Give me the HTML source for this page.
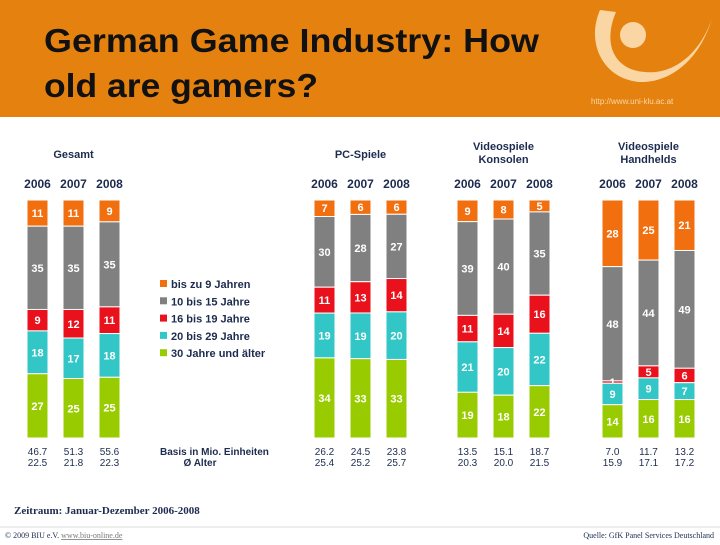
<!DOCTYPE html>
<html><head><meta charset="utf-8"><style>
body{margin:0;width:720px;height:540px;overflow:hidden;background:#fff;font-family:"Liberation Sans",sans-serif}
</style></head><body>
<svg id="c" width="720" height="540" xmlns="http://www.w3.org/2000/svg">
<rect x="0" y="0" width="720" height="117" fill="#E5820F"/>
<text x="44" y="52" font-size="33" font-weight="bold" fill="#111" font-family="Liberation Sans" textLength="495" lengthAdjust="spacingAndGlyphs">German Game Industry: How</text>
<text x="44" y="97" font-size="33" font-weight="bold" fill="#111" font-family="Liberation Sans" textLength="274" lengthAdjust="spacingAndGlyphs">old are gamers?</text>
<g>
<circle cx="633" cy="35" r="13" fill="#FAD6A5"/>
<path d="M600,10 C585,45 605,80 640,82 C670,83 700,60 712,18 C700,55 672,75 645,72 C615,70 602,45 616,12 Z" fill="#FAD6A5"/>
<text x="591" y="104" font-size="8" fill="#FAD6A5">http://www.uni-klu.ac.at</text>
</g>
<g id="bars"></g>
<g font-size="10" font-weight="bold" fill="#1d2b4f">
<text x="160" y="455">Basis in Mio. Einheiten</text>
<text x="200" y="466" text-anchor="middle">Ø Alter</text>
</g>
<text x="14" y="514" font-size="11" font-weight="bold" fill="#1d2b4f" font-family="Liberation Serif">Zeitraum: Januar-Dezember 2006-2008</text>
<line x1="0" y1="527" x2="720" y2="527" stroke="#ddd"/>
<text x="5" y="538" font-size="8" fill="#1d2b4f" font-family="Liberation Serif">© 2009 BIU e.V. <tspan fill="#777" text-decoration="underline">www.biu-online.de</tspan></text>
<text x="714" y="538" font-size="8" fill="#1d2b4f" font-family="Liberation Serif" text-anchor="end">Quelle: GfK Panel Services Deutschland</text>
</svg>
<script>
const groups=["Gesamt","PC-Spiele","Videospiele|Konsolen","Videospiele|Handhelds"];
const years=["2006","2007","2008"];
const ageCats=["bis zu 9 Jahren","10 bis 15 Jahre","16 bis 19 Jahre","20 bis 29 Jahre","30 Jahre und älter"];
const bis9=[[11,11,9],[7,6,6],[9,8,5],[28,25,21]];
const age10_15=[[35,35,35],[30,28,27],[39,40,35],[48,44,49]];
const age16_19=[[9,12,11],[11,13,14],[11,14,16],[1,5,6]];
const age20_29=[[18,17,18],[19,19,20],[21,20,22],[9,9,7]];
const age30=[[27,25,25],[34,33,33],[19,18,22],[14,16,16]];
const basis=[["46.7","51.3","55.6"],["26.2","24.5","23.8"],["13.5","15.1","18.7"],["7.0","11.7","13.2"]];
const avgAge=[["22.5","21.8","22.3"],["25.4","25.2","25.7"],["20.3","20.0","21.5"],["15.9","17.1","17.2"]];
const colors=["#F26F0F","#808080","#E8111C","#33C6C6","#99CC00"];
const NS="http://www.w3.org/2000/svg";
const gBars=document.getElementById("bars");
const groupX=[27,314,457,602], barStep=36, barW=21, plotTop=200, plotBottom=438;
function yScale(v,total){return (plotBottom-plotTop)*v/total;}
function mk(t,a){const e=document.createElementNS(NS,t);for(const k in a)e.setAttribute(k,a[k]);gBars.appendChild(e);return e;}
const series=[bis9,age10_15,age16_19,age20_29,age30];
groups.forEach((name,gi)=>{
  const cx=groupX[gi]+barStep+barW/2;
  const lines=name.split("|");
  lines.forEach((ln,li)=>{
    const t=mk("text",{x:cx,y:(lines.length>1?150:158)+li*13,"text-anchor":"middle","font-size":"11","font-weight":"bold",fill:"#1d2b4f"});
    t.textContent=ln;
    
    
  });
  years.forEach((yr,yi)=>{
    const x=groupX[gi]+yi*barStep;
    const yt=mk("text",{x:x+barW/2,y:188,"text-anchor":"middle","font-size":"12","font-weight":"bold",fill:"#1d2b4f"});
    yt.textContent=yr;
    
    
    let total=0;series.forEach(s=>total+=s[gi][yi]);
    let y=plotTop;
    series.forEach((s,si)=>{
      const v=s[gi][yi];const h=yScale(v,total);
      const r=mk("rect",{x:x,y:y,width:barW,height:h,fill:colors[si],stroke:"#fff","stroke-width":"1"});
      
      
      const lt=mk("text",{x:x+barW/2,y:y+h/2+4,"text-anchor":"middle","font-size":"11","font-weight":"bold",fill:"#fff"});
      lt.textContent=v;
      
      
      y+=h;
    });
    const b=mk("text",{x:x+barW/2,y:455,"text-anchor":"middle","font-size":"10",fill:"#1d2b4f"});
    b.textContent=basis[gi][yi];
    
    
    const a=mk("text",{x:x+barW/2,y:466,"text-anchor":"middle","font-size":"10",fill:"#1d2b4f"});
    a.textContent=avgAge[gi][yi];
    
    
  });
});
ageCats.forEach((c,i)=>{
  const y=284+i*17.3;
  const r=mk("rect",{x:160,y:y-4,width:7,height:7,fill:colors[i]});
  
  
  const t=mk("text",{x:171,y:y+4,"font-size":"11","font-weight":"bold",fill:"#1d2b4f"});
  t.textContent=c;
  
  
});
</script>
</body></html>
